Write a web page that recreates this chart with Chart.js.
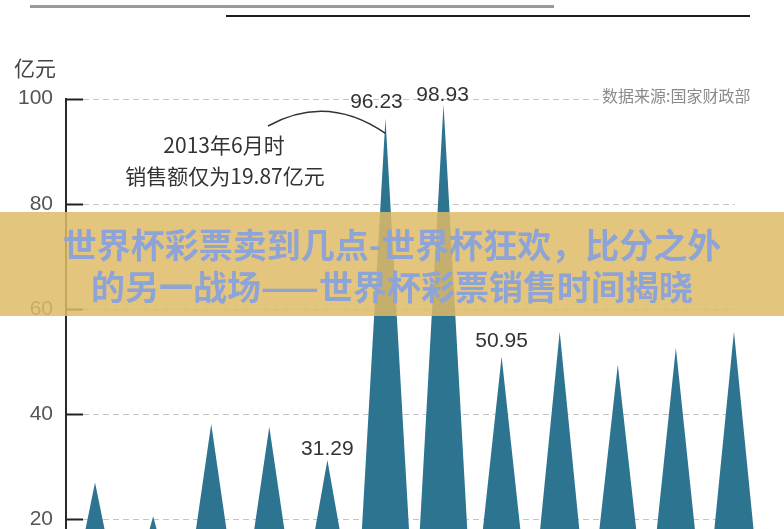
<!DOCTYPE html>
<html>
<head>
<meta charset="utf-8">
<script src="https://cdn.jsdelivr.net/npm/chart.js@4"></script>
<style>
  html, body { margin: 0; padding: 0; background: #fff; }
  canvas { display: block; }
</style>
</head>
<body>
<canvas id="myChart" width="784" height="529"></canvas>
<script>
// periods (x positions of the spikes) and sales in 亿元
const periods = [1, 2, 3, 4, 5, 6, 7, 8, 9, 10, 11, 12];
const sales = [27.0, 20.6, 38.1, 37.6, 31.29, 96.23, 98.93, 50.95, 55.7, 49.4, 52.6, 55.7];
const yTicks = [20, 40, 60, 80, 100];
const labelled = [4, 5, 6, 7];   // indexes of spikes with a value label

// every spike is a triangle: base at 0 half way to its neighbours, tip at its value
const points = [];
periods.forEach((p, i) => {
  points.push({ x: p - 0.5, y: 0 });
  points.push({ x: p, y: sales[i] });
});
points.push({ x: periods[periods.length - 1] + 0.5, y: 0 });

const numFont = '21px "Liberation Sans", Arial, sans-serif';
const cjkFont = '"Noto Sans CJK SC", "Noto Sans", sans-serif';

const decor = {
  id: 'decor',
  beforeDatasetsDraw(chart) {
    const { ctx, chartArea: a, scales: { x, y } } = chart;
    ctx.save();
    yTicks.forEach(v => {
      const py = Math.round(y.getPixelForValue(v)) + 0.5;
      const end = v === 100 ? 600 : x.getPixelForValue(12) + 1;
      ctx.setLineDash([6, 4]);
      ctx.strokeStyle = '#c4c4c4';
      ctx.lineWidth = 1;
      ctx.beginPath();
      ctx.moveTo(a.left + 17, py);
      ctx.lineTo(end, py);
      ctx.stroke();
      ctx.setLineDash([]);
      ctx.strokeStyle = '#222';
      ctx.lineWidth = 2;
      ctx.beginPath();
      ctx.moveTo(a.left, py);
      ctx.lineTo(a.left + 17, py);
      ctx.stroke();
    });
    ctx.restore();
  },
  afterDraw(chart) {
    const { ctx, scales: { x, y } } = chart;
    ctx.save();

    // lines at the very top
    ctx.fillStyle = '#9a9a9a';
    ctx.fillRect(30, 5, 524, 3);
    ctx.fillStyle = '#1e1e1e';
    ctx.fillRect(226, 15, 524, 2);

    // unit
    ctx.fillStyle = '#444';
    ctx.font = '21px ' + cjkFont;
    ctx.textAlign = 'left';
    ctx.textBaseline = 'middle';
    ctx.fillText('亿元', 14, 68);

    // source
    ctx.fillStyle = '#8a8a8a';
    ctx.font = '16px ' + cjkFont;
    ctx.fillText('数据来源:国家财政部', 602, 96);

    // value labels
    const shift = { 4: [0, -11], 5: [-9, -16], 6: [-1, -9], 7: [0, -15] };
    ctx.fillStyle = '#333';
    ctx.font = numFont;
    ctx.textAlign = 'center';
    labelled.forEach(i => {
      const px = x.getPixelForValue(periods[i]) + shift[i][0];
      const py = y.getPixelForValue(sales[i]) + shift[i][1];
      ctx.fillText(sales[i].toFixed(2), px, py);
    });

    // note + curve
    ctx.font = '21px ' + cjkFont;
    ctx.fillText('2013年6月时', 224, 145);
    ctx.fillText('销售额仅为19.87亿元', 225, 176);
    const tipX = x.getPixelForValue(periods[5]);
    const tipY = y.getPixelForValue(sales[5]);
    ctx.strokeStyle = '#333';
    ctx.lineWidth = 1.5;
    ctx.beginPath();
    ctx.moveTo(268, 126);
    ctx.quadraticCurveTo(327, 93, tipX, tipY + 15);
    ctx.stroke();

    // title banner over the chart
    ctx.fillStyle = 'rgba(223, 187, 102, 0.85)';
    ctx.fillRect(0, 212, 784, 104);
    ctx.fillStyle = '#8ea3d6';
    ctx.font = 'bold 34px ' + cjkFont;
    ctx.fillText('世界杯彩票卖到几点-世界杯狂欢，比分之外', 392, 245);
    ctx.fillText('的另一战场——世界杯彩票销售时间揭晓', 392, 287);

    ctx.restore();
  }
};

const config = {
  type: 'line',
  data: {
    datasets: [{
      data: points,
      fill: 'origin',
      backgroundColor: '#2c7490',
      borderWidth: 0,
      pointRadius: 0,
      tension: 0
    }]
  },
  options: {
    responsive: false,
    animation: false,
    devicePixelRatio: 1,
    layout: { padding: { top: 98.5, right: 21, bottom: 0, left: 0 } },
    plugins: { legend: { display: false }, tooltip: { enabled: false } },
    scales: {
      x: { type: 'linear', display: false, min: 0.5, max: 12.5 },
      y: {
        min: 18.16,
        max: 100,
        afterBuildTicks: s => { s.ticks = yTicks.map(v => ({ value: v })); },
        afterFit: s => { s.width = 66; s.paddingTop = 0; s.paddingBottom = 0; },
        grid: { display: false, drawTicks: false },
        border: { display: true, color: '#2a2a2a', width: 2 },
        ticks: {
          padding: 13,
          color: '#555',
          font: { family: '"Liberation Sans", Arial, sans-serif', size: 21 }
        }
      }
    }
  },
  plugins: [decor]
};

const ctx = document.getElementById('myChart').getContext('2d');
const myChart = new Chart(ctx, config);
</script>
</body>
</html>
